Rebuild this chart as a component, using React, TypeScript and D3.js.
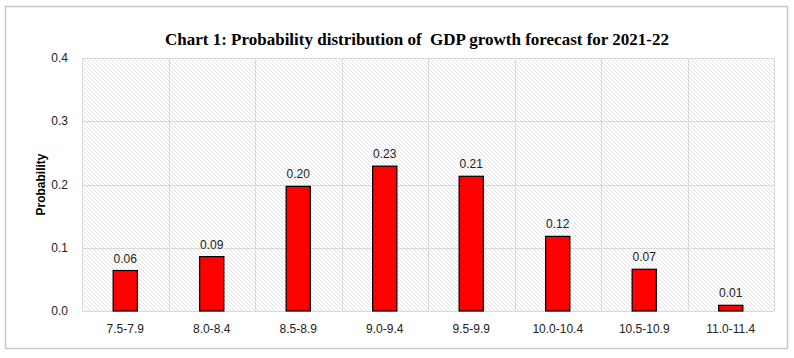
import React, { useRef, useEffect } from 'react';
import * as d3 from 'd3';

const categories = ['7.5-7.9', '8.0-8.4', '8.5-8.9', '9.0-9.4', '9.5-9.9', '10.0-10.4', '10.5-10.9', '11.0-11.4'];
const probabilities = [0.064, 0.086, 0.197, 0.229, 0.213, 0.118, 0.066, 0.009];
const valueLabels = ['0.06', '0.09', '0.20', '0.23', '0.21', '0.12', '0.07', '0.01'];
const yTicks = [0, 0.1, 0.2, 0.3, 0.4];

const title = 'Chart 1: Probability distribution of  GDP growth forecast for 2021-22';

const width = 794;
const height = 358;
const margin = { top: 58, right: 20, bottom: 47, left: 82 };
const innerWidth = 692;
const innerHeight = height - margin.top - margin.bottom;

const App = () => {
  const ref = useRef<SVGSVGElement>(null);

  useEffect(() => {
    const svg = d3.select(ref.current);
    svg.selectAll('*').remove();

    const defs = svg.append('defs');
    const pat = defs
      .append('pattern')
      .attr('id', 'hatch')
      .attr('patternUnits', 'userSpaceOnUse')
      .attr('width', 4)
      .attr('height', 4);
    pat.append('rect').attr('width', 4).attr('height', 4).attr('fill', '#ffffff');
    pat
      .append('path')
      .attr('d', 'M-1,3 l2,2 M0,0 l4,4 M3,-1 l2,2')
      .attr('stroke', '#e2e2e2')
      .attr('stroke-width', 1);

    // outer frame
    svg
      .append('rect')
      .attr('x', 5.5)
      .attr('y', 6.5)
      .attr('width', 782)
      .attr('height', 342)
      .attr('fill', '#fff')
      .attr('stroke', '#c8c8c8')
      .attr('stroke-width', 1.5);

    svg
      .append('text')
      .attr('x', 417)
      .attr('y', 45)
      .attr('text-anchor', 'middle')
      .attr('font-family', '"Liberation Serif", serif')
      .attr('font-weight', 'bold')
      .attr('font-size', 17)
      .attr('fill', '#000')
      .style('white-space', 'pre')
      .text(title);

    const x = d3.scaleBand().domain(categories).range([0, innerWidth]).paddingInner(0).paddingOuter(0);
    const y = d3.scaleLinear().domain([0, 0.4]).range([innerHeight, 0]);

    const g = svg.append('g').attr('transform', `translate(${margin.left},${margin.top})`);

    g.append('rect')
      .attr('width', innerWidth)
      .attr('height', innerHeight)
      .attr('fill', 'url(#hatch)');

    // horizontal gridlines
    g.selectAll('.hgrid')
      .data(yTicks)
      .enter()
      .append('line')
      .attr('x1', 0)
      .attr('x2', innerWidth)
      .attr('y1', d => Math.round(y(d)) + 0.5)
      .attr('y2', d => Math.round(y(d)) + 0.5)
      .attr('stroke', '#d9d9d9');

    // vertical gridlines at category boundaries
    const bounds = categories.map(c => x(c) as number).concat([innerWidth]);
    g.selectAll('.vgrid')
      .data(bounds)
      .enter()
      .append('line')
      .attr('x1', d => Math.round(d) + 0.5)
      .attr('x2', d => Math.round(d) + 0.5)
      .attr('y1', 0)
      .attr('y2', innerHeight)
      .attr('stroke', '#d9d9d9');

    const barW = x.bandwidth() * 0.28;

    g.selectAll('.bar')
      .data(probabilities)
      .enter()
      .append('rect')
      .attr('x', (d, i) => (x(categories[i]) as number) + (x.bandwidth() - barW) / 2)
      .attr('y', d => y(d))
      .attr('width', barW)
      .attr('height', d => innerHeight - y(d))
      .attr('fill', '#ff0000')
      .attr('stroke', '#000')
      .attr('stroke-width', 1.2);

    g.selectAll('.vlabel')
      .data(probabilities)
      .enter()
      .append('text')
      .attr('x', (d, i) => (x(categories[i]) as number) + x.bandwidth() / 2)
      .attr('y', d => y(d) - 8)
      .attr('text-anchor', 'middle')
      .attr('font-family', '"Liberation Sans", sans-serif')
      .attr('font-size', 12)
      .attr('fill', '#222')
      .text((d, i) => valueLabels[i]);

    // y ticks
    g.selectAll('.ytick')
      .data(yTicks)
      .enter()
      .append('text')
      .attr('x', -14)
      .attr('y', d => y(d) + 4)
      .attr('text-anchor', 'end')
      .attr('font-family', '"Liberation Sans", sans-serif')
      .attr('font-size', 12)
      .attr('fill', '#222')
      .text(d => d3.format('.1f')(d));

    // x labels
    g.selectAll('.xlabel')
      .data(categories)
      .enter()
      .append('text')
      .attr('x', d => (x(d) as number) + x.bandwidth() / 2)
      .attr('y', innerHeight + 22)
      .attr('text-anchor', 'middle')
      .attr('font-family', '"Liberation Sans", sans-serif')
      .attr('font-size', 12)
      .attr('fill', '#222')
      .text(d => d);

    svg
      .append('text')
      .attr('transform', `translate(45,${margin.top + innerHeight / 2}) rotate(-90)`)
      .attr('text-anchor', 'middle')
      .attr('font-family', '"Liberation Sans", sans-serif')
      .attr('font-weight', 'bold')
      .attr('font-size', 12)
      .attr('fill', '#000')
      .text('Probability');
  }, []);

  return (
    <svg
      ref={ref}
      width={width}
      height={height}
      style={{ position: 'absolute', left: 0, top: 0 }}
    />
  );
};

export default App;
